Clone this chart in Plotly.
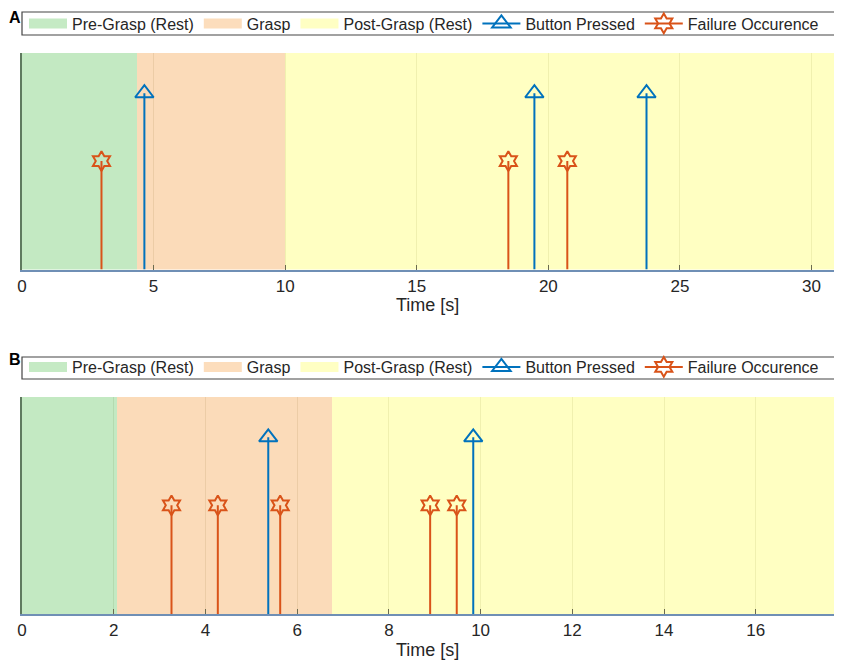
import plotly.graph_objects as go

# ---------------- data ----------------
phase_names = ["Pre-Grasp (Rest)", "Grasp", "Post-Grasp (Rest)"]
phase_colors = ["rgba(170,224,168,0.7)", "rgba(250,204,155,0.7)", "rgba(255,255,168,0.7)"]
phase_legend_colors = ["#C5EAC4", "#FCDDBC", "#FFFFC3"]

# Panel A
a_xmax = 30.93
a_phase_edges = [0, 4.38, 10.0, 30.93]
a_button_t = [4.65, 19.47, 23.73]
a_failure_t = [3.02, 18.48, 20.72]
a_xticks = [0, 5, 10, 15, 20, 25, 30]

# Panel B
b_xmax = 17.75
b_phase_edges = [0, 2.07, 6.77, 17.75]
b_button_t = [5.37, 9.84]
b_failure_t = [3.26, 4.27, 5.63, 8.90, 9.48]
b_xticks = [0, 2, 4, 6, 8, 10, 12, 14, 16]

button_val = 1.0
failure_val = 0.615
y_max = 1.23

BLUE = "#0072BD"
RED = "#D95319"
FONT = "Liberation Sans, Arial, sans-serif"
TXT = "#262626"

# page offset (body margin) compensation
OFF = 8
W, H = 842 - OFF, 665 - OFF
ML, MR = 22 - OFF, 6
PW = W - ML - MR

def py(px):
    return 1 - (px - OFF) / H

def pxx(px):
    return (px - OFF - ML) / PW

fig = go.Figure()

def add_panel(edges, buttons, failures, xa, ya, legend):
    for i, name in enumerate(phase_names):
        s, e = edges[i], edges[i + 1]
        fig.add_trace(go.Bar(
            x=[(s + e) / 2], y=[y_max], width=[e - s], base=0,
            marker=dict(color=phase_colors[i], line=dict(width=0)),
            name=name, showlegend=False, xaxis=xa, yaxis=ya, hoverinfo="skip"))
        fig.add_trace(go.Scatter(
            x=[None], y=[None], mode="lines", name=name,
            line=dict(color=phase_legend_colors[i], width=16),
            legend=legend, xaxis=xa, yaxis=ya))
    for times, val, col, sym, sz, nm in [
        (buttons, button_val, BLUE, "triangle-up-open", 16, "Button Pressed"),
        (failures, failure_val, RED, "hexagram-open", 15, "Failure Occurence"),
    ]:
        sx, sy, mx, my = [], [], [], []
        for t in times:
            sx += [t, t, None]
            sy += [0, val, None]
            mx += [t, None]
            my += [val, None]
        fig.add_trace(go.Scatter(x=sx, y=sy, mode="lines",
                                 line=dict(color=col, width=2),
                                 showlegend=False, xaxis=xa, yaxis=ya))
        fig.add_trace(go.Scatter(x=mx, y=my, mode="lines+markers", name=nm,
                                 line=dict(color=col, width=2),
                                 marker=dict(symbol=sym, size=sz, color=col,
                                             line=dict(width=2, color=col)),
                                 legend=legend, xaxis=xa, yaxis=ya))

add_panel(a_phase_edges, a_button_t, a_failure_t, "x", "y", "legend")
add_panel(b_phase_edges, b_button_t, b_failure_t, "x2", "y2", "legend2")

axis_common = dict(
    showgrid=True, gridcolor="rgba(140,140,110,0.45)", gridwidth=1,
    ticks="inside", ticklen=5, tickcolor="#6b6b50", tickwidth=1,
    showline=True, linecolor="#6f8fb5", linewidth=1.5,
    tickfont=dict(family=FONT, size=17, color=TXT),
    zeroline=False,
)
yaxis_common = dict(showgrid=False, showticklabels=False, ticks="",
                    showline=True, linecolor="#5f7a5f", linewidth=1.5,
                    zeroline=False, range=[0, y_max], fixedrange=True)

legend_common = dict(orientation="h", xanchor="left", yanchor="middle",
                     bgcolor="rgba(0,0,0,0)", borderwidth=0, itemwidth=38,
                     font=dict(family=FONT, size=16, color=TXT),
                     itemclick=False, itemdoubleclick=False)

box = dict(type="rect", xref="paper", yref="paper",
           line=dict(color="#444444", width=1.2),
           fillcolor="rgba(0,0,0,0)", layer="below")

fig.update_layout(
    width=W, height=H,
    margin=dict(l=ML, r=MR, t=0, b=0, autoexpand=False),
    paper_bgcolor="white", plot_bgcolor="white",
    barmode="overlay", bargap=0,
    xaxis=dict(domain=[0, 1], range=[0, a_xmax], tickvals=a_xticks,
               anchor="y", **axis_common),
    yaxis=dict(domain=[py(269.5), py(52.7)], anchor="x", **yaxis_common),
    xaxis2=dict(domain=[0, 1], range=[0, b_xmax], tickvals=b_xticks,
                anchor="y2", **axis_common),
    yaxis2=dict(domain=[py(614), py(396.7)], anchor="x2", **yaxis_common),
    legend=dict(x=pxx(24), y=py(23.5), **legend_common),
    legend2=dict(x=pxx(24), y=py(367), **legend_common),
    shapes=[
        dict(x0=pxx(22), x1=pxx(836.5), y0=py(35), y1=py(12), **box),
        dict(x0=pxx(22), x1=pxx(836.5), y0=py(379), y1=py(357), **box),
    ],
    annotations=[
        dict(text="<b>A</b>", xref="paper", yref="paper", x=pxx(7), y=py(7),
             xanchor="left", yanchor="top", showarrow=False,
             font=dict(family=FONT, size=16, color="black")),
        dict(text="<b>B</b>", xref="paper", yref="paper", x=pxx(7), y=py(349),
             xanchor="left", yanchor="top", showarrow=False,
             font=dict(family=FONT, size=16, color="black")),
        dict(text="Time [s]", xref="paper", yref="paper", x=pxx(427), y=py(305),
             xanchor="center", yanchor="middle", showarrow=False,
             font=dict(family=FONT, size=18, color=TXT)),
        dict(text="Time [s]", xref="paper", yref="paper", x=pxx(427), y=py(650),
             xanchor="center", yanchor="middle", showarrow=False,
             font=dict(family=FONT, size=18, color=TXT)),
    ],
)

fig.write_html("out.html")
